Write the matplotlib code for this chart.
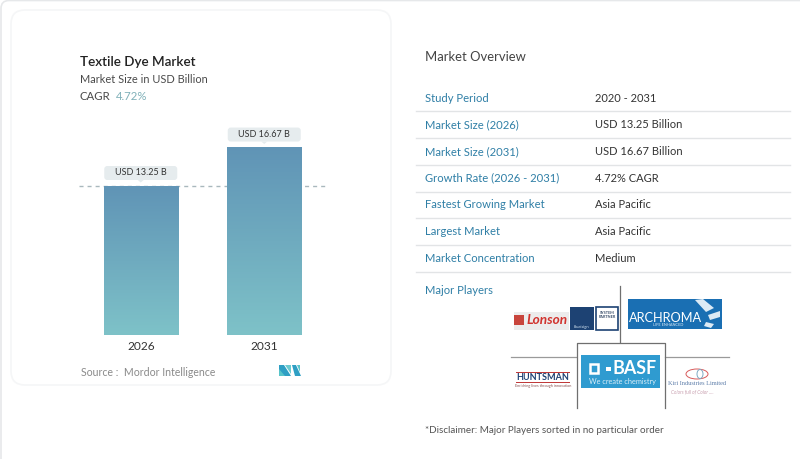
import numpy as np
import matplotlib
matplotlib.use("Agg")
import matplotlib.pyplot as plt
from matplotlib.patches import FancyBboxPatch, Rectangle, Polygon, Ellipse
from matplotlib.colors import LinearSegmentedColormap

years = ["2026", "2031"]
values = [13.25, 16.67]
bar_labels = ["USD 13.25 B", "USD 16.67 B"]
row_labels = ["Study Period", "Market Size (2026)", "Market Size (2031)", "Growth Rate (2026 - 2031)",
              "Fastest Growing Market", "Largest Market", "Market Concentration"]
row_values = ["2020 - 2031", "USD 13.25 Billion", "USD 16.67 Billion", "4.72% CAGR",
              "Asia Pacific", "Asia Pacific", "Medium"]

W, H = 800, 459
plt.rcParams["font.family"] = ["Lato", "DejaVu Sans"]
fig = plt.figure(figsize=(8, 4.59), dpi=100, facecolor="white")

# overlay in pixel coordinates
ov = fig.add_axes([0, 0, 1, 1], zorder=0)
ov.set_xlim(0, W); ov.set_ylim(H, 0); ov.axis("off")

ov.add_patch(FancyBboxPatch((1, 0.5), 900, 480, boxstyle="round,pad=0,rounding_size=8",
                            fc="white", ec="#e6e8ea", lw=1.2))
ov.add_patch(FancyBboxPatch((11, 10), 380, 375, boxstyle="round,pad=0,rounding_size=14",
                            fc="white", ec="#f5f6f7", lw=1.2))

ov.text(80, 65.5, "Textile Dye Market", fontsize=9.7, color="#222222", va="baseline", fontweight=600)
ov.text(80, 83.3, "Market Size in USD Billion", fontsize=7.9, color="#4a4a4a", va="baseline")
ov.text(80, 99.5, "CAGR", fontsize=8.2, color="#4a4a4a", va="baseline")
ov.text(116, 99.5, "4.72%", fontsize=8.2, color="#7fb0b8", va="baseline")
ov.text(81, 376, "Source :  Mordor Intelligence", fontsize=7.6, color="#8a8a8a", va="baseline")

# Mordor mark
ov.add_patch(Polygon([(279, 365), (284, 365), (291, 376), (279, 376)], fc="#2f9fc4", ec="none"))
ov.add_patch(Polygon([(279, 369), (285, 376), (279, 376)], fc="#57c4c9", ec="none"))
ov.add_patch(Polygon([(285, 365), (291, 365), (291, 374)], fc="#6ccbd0", ec="none"))
ov.add_patch(Polygon([(292, 365), (296, 365), (301, 376), (295, 376)], fc="#2f9fc4", ec="none"))
ov.add_patch(Polygon([(297, 365), (300, 365), (300, 372)], fc="#57c4c9", ec="none"))

# bar chart axes, pixel extent x 79..326, y 100..335
ax = fig.add_axes([79 / W, 1 - 335 / H, 247 / W, 235 / H], zorder=1)
ax.patch.set_alpha(0)
ymax = 13.25 * 235 / 149
ax.set_ylim(0, ymax)
ax.set_xlim(-0.5, 1.5)
xp = np.arange(len(years))
bars = ax.bar(xp, values, width=0.6, color="none")
cmap = LinearSegmentedColormap.from_list("g", ["#7EC2C8", "#6094B6"])
grad = np.linspace(0, 1, 256).reshape(-1, 1)
for b in bars:
    x0, w, h = b.get_x(), b.get_width(), b.get_height()
    ax.imshow(grad, origin="lower", extent=(x0, x0 + w, 0, h), cmap=cmap, aspect="auto", zorder=2)
ax.set_xlim(-0.5, 1.5); ax.set_ylim(0, ymax)
ax.axhline(values[0], color="#a9b8bd", lw=1, dashes=(2.9, 2.9), zorder=1)
ax.set_yticks([])
ax.set_xticks(xp, years, fontsize=8.6, color="#333333")
ax.tick_params(axis="x", length=0, pad=4.5)
for s in ax.spines.values():
    s.set_visible(False)
for xi, v, t in zip(xp, values, bar_labels):
    px, py = ax.transData.transform((xi, v))
    py = H - py
    ov.add_patch(FancyBboxPatch((px - 36.5, py - 20), 73, 14, boxstyle="round,pad=0,rounding_size=3",
                                fc="#e6ecee", ec="none"))
    ov.add_patch(Polygon([(px - 3, py - 6), (px + 3, py - 6), (px, py - 3.5)], fc="#e6ecee", ec="none"))
    ax.annotate(t, (xi, v), xytext=(0, 9.4), textcoords="offset points", ha="center", va="center",
                fontsize=6.5, color="#333333", zorder=4)

# right panel
ov.text(425, 60.7, "Market Overview", fontsize=9.4, color="#444444", va="baseline")
row_y = [101.5, 128, 155, 181.5, 208, 235, 262]
line_y = [110.5, 138, 164.5, 191.5, 218, 245, 272]
for i, (a, b) in enumerate(zip(row_labels, row_values)):
    ov.text(425, row_y[i], a, fontsize=8.1, color="#2f7fa6", va="baseline")
    ov.text(595, row_y[i], b, fontsize=8.0, color="#333333", va="baseline")
    ov.plot([416, 790], [line_y[i]] * 2, color="#e2e4e6", lw=1)
ov.text(425, 293.5, "Major Players", fontsize=8.1, color="#2f7fa6", va="baseline")

# logo grid
g = "#6f6f6f"
ov.plot([620, 620], [286, 342], color=g, lw=0.9)
ov.plot([511, 576], [357, 357], color="#9a9a9a", lw=0.9)
ov.plot([665, 729], [357, 357], color="#9a9a9a", lw=0.9)
ov.plot([576.5, 576.5, 664.5, 664.5], [408, 342.5, 342.5, 408], color=g, lw=0.9)

# Lonson
ov.add_patch(Rectangle((514, 312), 55, 18, fc="#ececec", ec="none"))
ov.add_patch(Rectangle((514, 315), 9.5, 10, fc="#c8453c", ec="none"))
ov.text(526, 320, "Lonson", fontsize=9.8, color="#d1332e", va="center", fontstyle="italic", fontweight="bold")
ov.add_patch(Rectangle((570, 306.5), 24, 23.5, fc="#1d4273", ec="none"))
ov.text(582, 327, "blueisign", fontsize=3, color="#cfe0ee", va="center", ha="center")
ov.add_patch(Rectangle((595.5, 306.5), 22.5, 23, fc="white", ec="#1d4273", lw=1.2))
ov.text(607, 315, "SYSTEM\nPARTNER", fontsize=2.8, color="#3b4f6b", va="center", ha="center", fontweight="bold")

# Archroma
ov.add_patch(Rectangle((628, 299), 94, 30, fc="#1a6fb3", ec="none"))
ov.text(628.5, 318, "ARCHROMA", fontsize=9.2, color="white", va="center")
ov.text(668, 325.5, "LIFE ENHANCED", fontsize=2.8, color="#d8e8f4", va="center", ha="center")
ov.add_patch(Polygon([(695, 300), (703, 299), (714, 308), (706, 312)], fc="#dceaf5", ec="none"))
ov.add_patch(Polygon([(708, 315), (720, 311), (720, 317), (710, 320)], fc="#dceaf5", ec="none"))
ov.add_patch(Polygon([(706, 322), (714, 324), (711, 328), (704, 326)], fc="#dceaf5", ec="none"))

# BASF
ov.add_patch(Rectangle((581, 355), 79, 33, fc="#2f9bd0", ec="none"))
ov.add_patch(Rectangle((590, 364), 8, 8.5, fc="none", ec="white", lw=1.8))
ov.add_patch(Rectangle((606, 366.5), 4.5, 4.5, fc="white", ec="none"))
ov.text(613, 368.5, "BASF", fontsize=12.9, color="white", va="center", fontweight="bold")
ov.text(622.5, 381.5, "We create chemistry", fontsize=5.3, color="#d9eef8", va="center", ha="center")

# Huntsman
ov.add_patch(Rectangle((516, 371.5), 54, 1.6, fc="#c03a3a", ec="none"))
ov.add_patch(Rectangle((516, 381.5), 54, 1.6, fc="#c03a3a", ec="none"))
ov.text(543, 377.3, "HUNTSMAN", fontsize=6.5, color="#1d3f72", va="center", ha="center", fontweight="bold")
ov.text(543, 386, "Enriching lives through innovation", fontsize=2.7, color="#8a5050", va="center", ha="center")

# Kiri
ov.add_patch(Ellipse((697, 374), 22, 10, fc="none", ec="#d85a5a", lw=0.7))
ov.add_patch(Ellipse((700, 374), 6, 9, fc="none", ec="#7faac4", lw=0.7))
ov.text(697, 383.5, "Kiri Industries Limited", fontsize=4.5, color="#5a7ba8", va="center", ha="center", family="Liberation Serif")
ov.text(692.5, 392, "Colors full of Color ....", fontsize=3.4, color="#c9a0b0", va="center", ha="center", fontstyle="italic")

ov.text(425, 433, "*Disclaimer: Major Players sorted in no particular order", fontsize=7.1, color="#555555", va="baseline")

fig.savefig("out.png", dpi=100, facecolor="white")
